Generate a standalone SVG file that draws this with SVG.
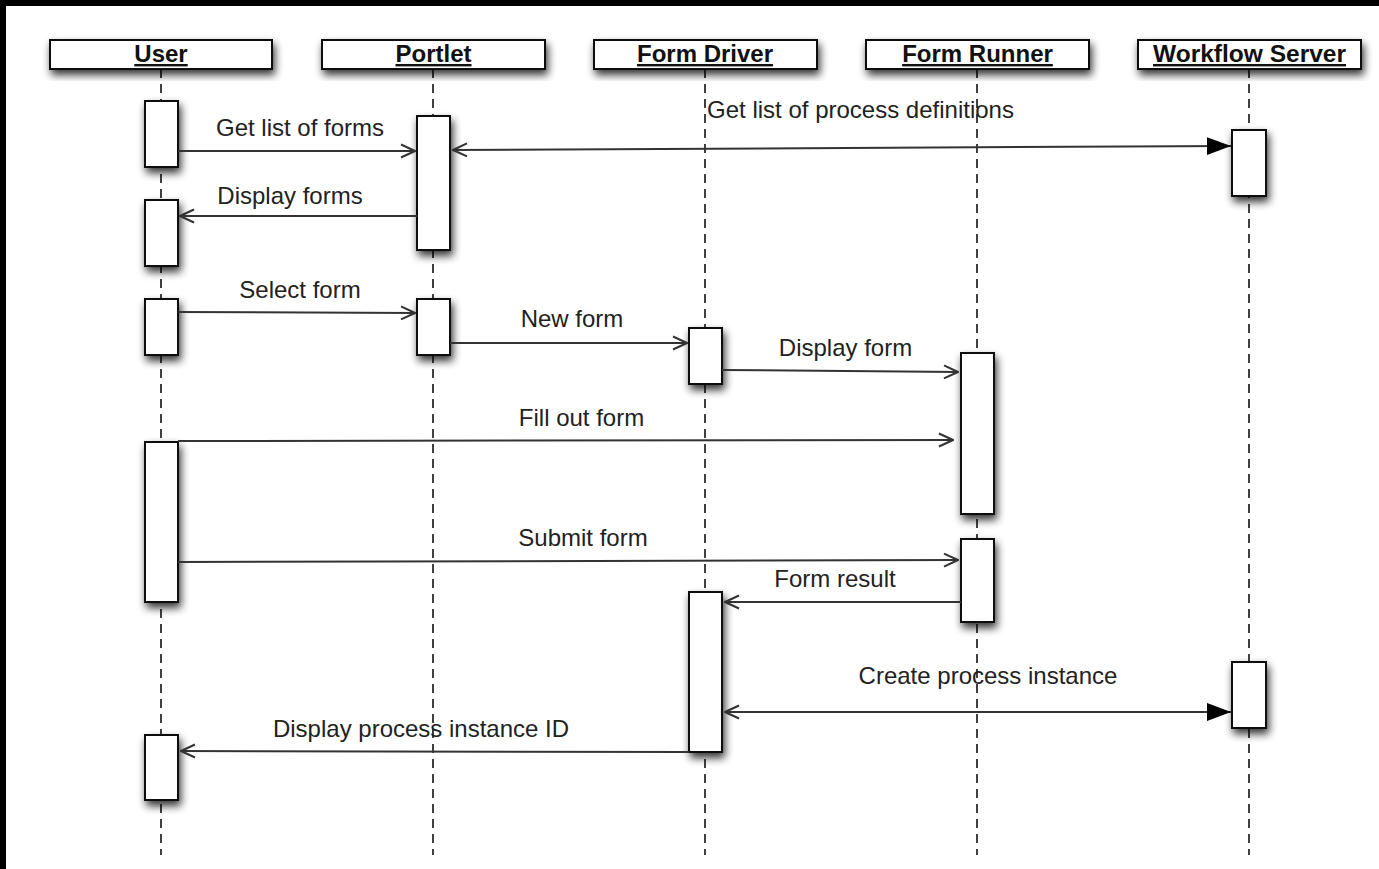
<svg xmlns="http://www.w3.org/2000/svg" width="1379" height="869" viewBox="0 0 1379 869">
<defs>
<style>
.hdr{fill:#fff;stroke:#111;stroke-width:2}
.act{fill:#fff;stroke:#111;stroke-width:2}
.life{stroke:#111;stroke-width:1.6;stroke-dasharray:9 6;fill:none}
.msg{stroke:#333;stroke-width:2;fill:none}
.ht{font-family:"Liberation Sans",Arial,sans-serif;font-weight:bold;font-size:24px;fill:#111;text-anchor:middle;text-decoration:underline}
.lt{font-family:"Liberation Sans",Arial,sans-serif;font-size:24px;fill:#222;text-anchor:middle}
</style>
<filter id="sh" x="-40%" y="-40%" width="180%" height="180%">
<feGaussianBlur in="SourceAlpha" stdDeviation="4.5"/>
<feOffset dx="2" dy="5" result="b"/>
<feComponentTransfer><feFuncA type="linear" slope="0.8"/></feComponentTransfer>
<feMerge><feMergeNode/><feMergeNode in="SourceGraphic"/></feMerge>
</filter>
<marker id="open" viewBox="0 0 16 16" refX="15" refY="8" markerWidth="16" markerHeight="16" markerUnits="userSpaceOnUse" orient="auto-start-reverse">
<path d="M1,1.5 L15,8 L1,14.5" fill="none" stroke="#333" stroke-width="2"/>
</marker>
<marker id="fill" viewBox="0 0 24 20" refX="24" refY="10" markerWidth="24" markerHeight="20" markerUnits="userSpaceOnUse" orient="auto">
<path d="M0,1 L24,10 L0,19 Z" fill="#000"/>
</marker>
</defs>
<rect x="0" y="0" width="1379" height="869" fill="#fff"/>
<rect x="0" y="0" width="1379" height="6" fill="#000"/>
<rect x="0" y="0" width="6" height="869" fill="#000"/>

<g id="lifelines">
<line class="life" x1="161" y1="69" x2="161" y2="855"/>
<line class="life" x1="433" y1="69" x2="433" y2="855"/>
<line class="life" x1="705" y1="69" x2="705" y2="855"/>
<line class="life" x1="977" y1="69" x2="977" y2="855"/>
<line class="life" x1="1249" y1="69" x2="1249" y2="855"/>
</g>

<g id="user">
<rect class="hdr" x="50" y="40" width="222" height="29" filter="url(#sh)"/>
<text class="ht" x="161" y="62">User</text>
<rect class="act" x="145" y="101" width="33" height="66" filter="url(#sh)"/>
<rect class="act" x="145" y="200" width="33" height="66" filter="url(#sh)"/>
<rect class="act" x="145" y="299" width="33" height="56" filter="url(#sh)"/>
<rect class="act" x="145" y="442" width="33" height="160" filter="url(#sh)"/>
<rect class="act" x="145" y="735" width="33" height="65" filter="url(#sh)"/>
</g>

<g id="portlet">
<rect class="hdr" x="322" y="40" width="223" height="29" filter="url(#sh)"/>
<text class="ht" x="433.5" y="62">Portlet</text>
<rect class="act" x="417" y="116" width="33" height="134" filter="url(#sh)"/>
<rect class="act" x="417" y="299" width="33" height="56" filter="url(#sh)"/>
</g>

<g id="formdriver">
<rect class="hdr" x="594" y="40" width="223" height="29" filter="url(#sh)"/>
<text class="ht" x="705" y="62">Form Driver</text>
<rect class="act" x="689" y="328" width="33" height="56" filter="url(#sh)"/>
<rect class="act" x="689" y="592" width="33" height="160" filter="url(#sh)"/>
</g>

<g id="formrunner">
<rect class="hdr" x="866" y="40" width="223" height="29" filter="url(#sh)"/>
<text class="ht" x="977.5" y="62">Form Runner</text>
<rect class="act" x="961" y="353" width="33" height="161" filter="url(#sh)"/>
<rect class="act" x="961" y="539" width="33" height="83" filter="url(#sh)"/>
</g>

<g id="workflowserver">
<rect class="hdr" x="1138" y="40" width="223" height="29" filter="url(#sh)"/>
<text class="ht" x="1249.5" y="62" textLength="193" lengthAdjust="spacingAndGlyphs">Workflow Server</text>
<rect class="act" x="1232" y="130" width="34" height="66" filter="url(#sh)"/>
<rect class="act" x="1232" y="662" width="34" height="66" filter="url(#sh)"/>
</g>

<g id="connectors">
<line class="msg" x1="178" y1="151" x2="415" y2="151" marker-end="url(#open)"/>
<line class="msg" x1="453" y1="150" x2="1231" y2="146" marker-start="url(#open)" marker-end="url(#fill)"/>
<line class="msg" x1="417" y1="216" x2="180" y2="216" marker-end="url(#open)"/>
<line class="msg" x1="178" y1="312" x2="415" y2="313" marker-end="url(#open)"/>
<line class="msg" x1="450" y1="343" x2="687" y2="343" marker-end="url(#open)"/>
<line class="msg" x1="722" y1="370" x2="958" y2="372" marker-end="url(#open)"/>
<line class="msg" x1="178" y1="441" x2="953" y2="440" marker-end="url(#open)"/>
<line class="msg" x1="178" y1="562" x2="958" y2="560" marker-end="url(#open)"/>
<line class="msg" x1="961" y1="602" x2="725" y2="602" marker-end="url(#open)"/>
<line class="msg" x1="725" y1="712" x2="1231" y2="712" marker-start="url(#open)" marker-end="url(#fill)"/>
<line class="msg" x1="689" y1="752" x2="181" y2="751" marker-end="url(#open)"/>
</g>

<g id="labels">
<text class="lt" x="300" y="136">Get list of forms</text>
<text class="lt" x="860.5" y="118">Get list of process definitions</text>
<text class="lt" x="290" y="204">Display forms</text>
<text class="lt" x="300" y="298">Select form</text>
<text class="lt" x="572" y="327">New form</text>
<text class="lt" x="845.5" y="356">Display form</text>
<text class="lt" x="581.5" y="426">Fill out form</text>
<text class="lt" x="583" y="546">Submit form</text>
<text class="lt" x="835" y="587">Form result</text>
<text class="lt" x="988" y="684">Create process instance</text>
<text class="lt" x="421" y="737">Display process instance ID</text>
</g>
</svg>
